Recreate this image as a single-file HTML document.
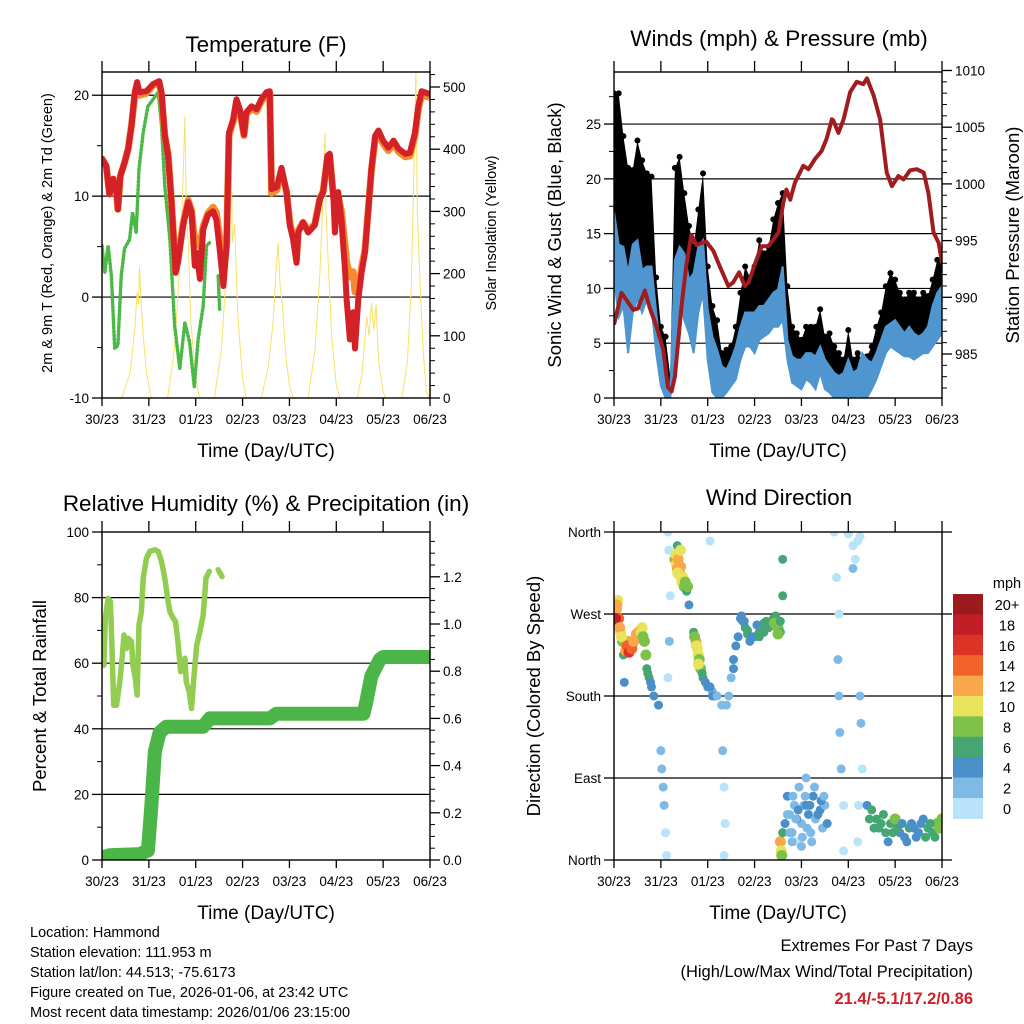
<!DOCTYPE html>
<html><head><meta charset="utf-8"><style>
html,body{margin:0;padding:0;background:#fff;}
svg{display:block;font-family:"Liberation Sans",sans-serif;}
</style></head><body>
<svg id="c" width="1024" height="1024" viewBox="0 0 1024 1024" xmlns="http://www.w3.org/2000/svg">
<rect width="1024" height="1024" fill="#fff"/>
</svg>
<script>
// ---------- DATA ----------
const dayLabels = ["30/23","31/23","01/23","02/23","03/23","04/23","05/23","06/23"];
// Temperature (F)
const tempRedT = [0,.09,.16,.24,.31,.34,.39,.48,.56,.63,.70,.75,.80,.95,1.09,1.22,1.27,1.34,1.41,1.48,1.57,1.62,1.73,1.84,1.91,1.98,2.02,2.09,2.16,2.26,2.37,2.44,2.51,2.59,2.66,2.71,2.80,2.87,2.94,3.03,3.08,3.19,3.30,3.40,3.51,3.58,3.62,3.73,3.83,3.94,4.01,4.08,4.15,4.19,4.29,4.40,4.54,4.65,4.72,4.81,4.86,4.94,4.97,5.04,5.11,5.19,5.22,5.29,5.36,5.40,5.47,5.54,5.61,5.68,5.75,5.83,5.90,6.00,6.11,6.22,6.33,6.47,6.57,6.68,6.75,6.82,7.0];
const tempRedV = [13.7,13.0,10.2,11.7,10.4,8.7,12.0,13.3,14.7,17.0,20.3,21.3,20.3,20.4,21.1,21.4,20.3,16.0,14.0,9.7,2.4,3.4,7.1,9.4,8.4,3.1,4.4,1.8,6.7,8.1,8.5,7.7,4.8,1.1,5.1,16.3,17.6,19.6,18.6,16.1,18.3,18.9,18.6,19.6,20.3,20.4,10.7,10.9,12.8,10.4,7.1,5.7,3.4,6.4,7.4,6.4,7.1,9.7,10.4,14.0,14.2,9.7,6.4,10.4,7.7,2.4,-0.2,-4.2,-1.5,-5.1,-0.2,2.4,4.4,8.4,12.7,16.0,16.5,15.5,14.8,15.5,14.7,14.2,14.3,16.3,18.9,20.4,20.1];
const tempOrgV = [13.7,13.0,10.2,11.7,10.4,8.7,12.0,13.3,14.7,17.0,20.0,21.0,20.0,20.2,21.0,21.2,20.0,16.0,14.2,9.8,2.6,3.6,7.3,9.6,8.6,5.5,5.8,5.0,7.0,8.3,8.9,8.4,6.0,2.0,5.3,16.0,17.4,19.4,18.4,16.0,18.1,18.7,18.4,19.4,20.0,20.2,10.3,10.6,12.5,10.4,7.3,5.9,3.7,6.6,7.4,6.6,7.2,9.8,10.5,13.8,14.0,10.0,9.0,10.0,8.5,5.0,3.5,2.0,2.5,0.5,0.5,3.0,4.6,8.5,12.5,15.7,16.2,15.2,14.5,15.2,14.4,13.9,14.0,16.0,18.6,20.0,19.8];
const dewT = [0,.06,.13,.20,.27,.34,.41,.48,.59,.65,.73,.79,.88,.98,1.09,1.20,1.27,1.34,1.45,1.55,1.66,1.77,1.87,1.97,2.05,2.16,2.23,2.30];
const dewV = [5.1,2.4,5.1,2.1,-5.1,-4.8,2.1,4.8,5.7,8.4,6.4,12.7,16.3,18.9,19.6,20.3,17.0,11.0,5.7,-2.8,-7.1,-2.5,-4.5,-8.9,-4.2,-0.9,5.1,5.4];
const dew2T = [2.48,2.51];
const dew2V = [2.1,-1.2];
const solarT = [.42,.60,.70,.75,.78,.80,.83,.88,.95,1.05, 1.40,1.55,1.65,1.72,1.77,1.80,1.84,1.90,2.0,2.08, 2.40,2.55,2.65,2.72,2.76,2.78,2.83,2.90,3.0,3.08, 3.40,3.55,3.65,3.72,3.76,3.80,3.85,3.92,4.0,4.08, 4.40,4.55,4.65,4.72,4.76,4.78,4.82,4.9,5.0,5.08, 5.45,5.55,5.65,5.70,5.75,5.80,5.85,5.9,6.0,6.05, 6.40,6.52,6.60,6.66,6.70,6.73,6.78,6.85,6.92,7.0];
const solarV = [0,40,110,170,150,211,160,100,40,0, 0,80,200,330,452,300,250,120,30,0, 0,80,200,330,383,250,280,130,30,0, 0,50,120,210,249,180,150,70,20,0, 0,80,200,330,426,300,230,100,20,0, 0,40,130,100,153,110,150,60,10,0, 0,60,180,380,524,300,200,80,10,0];
// Winds (mph) & pressure (mb)
const windT = [0,.1,.2,.3,.4,.5,.6,.7,.8,.9,1.0,1.1,1.2,1.3,1.4,1.5,1.6,1.7,1.8,1.9,2.0,2.1,2.2,2.3,2.4,2.5,2.6,2.7,2.8,2.9,3.0,3.1,3.2,3.3,3.4,3.5,3.6,3.7,3.8,3.9,4.0,4.1,4.2,4.3,4.4,4.5,4.6,4.7,4.8,4.9,5.0,5.1,5.2,5.3,5.4,5.5,5.6,5.7,5.8,5.9,6.0,6.1,6.2,6.3,6.4,6.5,6.6,6.7,6.8,6.9,7.0];
const gustHigh = [27.8,27.8,23.9,21,20.8,23.5,21.7,20.5,20.2,11,6.5,5.6,2,21,22,18.7,15.7,13.8,17.2,20.5,12,8.4,7.1,4.1,4.4,4.7,6.5,9.6,12,11,12,14.4,13.2,13.8,16.3,17.8,18.7,10.2,6.5,5.9,5.3,6.5,6.5,6.5,8.1,5.6,5.9,4.7,4.1,3.5,6.2,3.5,4.1,3.5,3.8,4.7,6.5,7.8,10.2,11.4,10.8,9.6,9,9.6,9.6,9,9.6,9.3,10.8,12.6,13.2];
const windHigh = [17,14,13.8,11.4,14,14.4,11.7,12,12,7.8,4.1,2,0.5,12.6,13.8,13.2,10.8,11.4,13.8,14.4,8.1,5.6,4.4,2.9,2.6,3.5,4.7,6.5,7.8,7.8,7.8,8.4,8.4,9,9.6,9.9,12,5.3,3.8,3.5,3.5,4.1,4.1,3.8,4.7,3.5,2.9,2.3,2,2.3,3.5,2.3,2.6,4.1,3.5,3.2,4.1,5.3,6.5,6.8,7.1,6.5,5.9,6.5,5.9,5.6,5.9,6.5,8.4,9.6,10.2];
const windLow = [11,7.4,8.4,4.1,7.8,9,7.8,9,8.4,4.1,1.1,0,0,3.5,9.6,7.1,5.9,4.1,7.8,9.6,3.5,0.5,0,0,0.5,1.1,1.7,3.5,4.7,4.7,4.1,5.3,5.6,5.9,6.5,6.5,7.1,3.5,1.4,1.1,0.8,1.7,1.4,0.8,2.3,0.8,0.5,0,0,0,0.2,0,0.2,0,0,0.8,1.7,2.9,4.1,4.7,4.4,4.1,3.8,3.8,3.5,3.8,4.1,4.1,4.7,5.3,5.9];
const presT = [0,.16,.26,.41,.51,.66,.76,.91,1.05,1.15,1.23,1.30,1.44,1.55,1.65,1.76,1.87,1.97,2.12,2.26,2.44,2.54,2.67,2.79,2.87,3.04,3.15,3.29,3.51,3.61,3.68,3.76,3.86,4.04,4.15,4.29,4.43,4.54,4.65,4.68,4.79,4.90,5.04,5.18,5.32,5.40,5.54,5.68,5.82,5.93,6.07,6.18,6.32,6.46,6.61,6.71,6.82,6.93,7.0];
const presV = [987.6,990.4,989.8,988.9,989.0,990.6,989.1,987.4,985.4,982.1,981.7,983.0,989.2,993.0,995.5,994.6,994.8,994.9,994.1,992.7,991.0,991.3,992.2,991.0,991.3,993.3,994.5,994.5,995.7,998.3,999.5,998.6,1000.1,1001.6,1001.3,1002.2,1002.9,1004.0,1005.7,1005.6,1004.5,1005.7,1008.1,1009.0,1008.8,1009.3,1007.8,1005.7,1001.0,999.8,1000.7,1000.4,1001.2,1001.3,1001.0,999.2,995.7,994.8,993.0];
// RH & precipitation
const rhT = [0,.04,.07,.13,.18,.21,.25,.31,.38,.43,.47,.52,.56,.63,.66,.71,.75,.79,.84,.88,.95,1.02,1.13,1.20,1.27,1.34,1.41,1.45,1.52,1.57,1.62,1.68,1.77,1.80,1.86,1.91,1.96,2.02,2.09,2.16,2.22,2.29];
const rhV = [68.6,59.4,73.7,79.8,78.8,66.6,47.2,47.2,54.3,61.5,68.6,64.5,67.6,66.6,59.4,55.4,50.3,71.7,75.7,85.9,92,94.1,94.6,94.1,91,85.9,78.8,75.7,73.7,72.7,66.6,57.4,61.5,54.3,51.3,46.2,55.4,65.5,69.6,74.7,85.9,88];
const rh2T = [2.48,2.56];
const rh2V = [88.5,86.4];
const precipT = [0,.16,.80,.98,1.05,1.13,1.23,1.37,2.16,2.30,3.58,3.72,5.58,5.64,5.75,5.93,6.0,7.0];
const precipV = [0.01,0.02,0.025,0.04,0.22,0.46,0.54,0.565,0.565,0.60,0.60,0.62,0.62,0.67,0.78,0.85,0.86,0.86];
// Wind direction (deg), colored by speed (mph)
const dirT = [0,.02,.05,.08,.1,.14,.18,.2,.22,.3,.35,.4,.45,.5,.55,.6,.65,.7,.75,.8,.85,.95,1.0,1.02,1.05,1.07,1.1,1.12,1.15,1.18,1.2,1.17,1.15,1.3,1.33,1.35,1.38,1.4,1.43,1.45,1.5,1.55,1.6,1.35,1.7,1.75,1.78,1.8,1.85,1.9,2.0,2.1,2.15,2.05,2.3,2.32,2.35,2.37,2.35,2.45,2.5,2.55,2.6,2.7,2.8,2.9,3.0,3.1,3.2,3.3,3.4,3.5,3.55,3.6,3.6,3.55,3.57,3.6,3.58,3.7,3.75,3.8,3.85,3.9,3.95,4.0,4.05,4.1,4.15,4.2,4.25,4.3,4.4,4.45,4.5,4.55,4.7,4.75,4.8,4.78,4.8,4.82,4.85,4.9,4.9,5.0,5.1,5.15,5.2,5.25,5.1,5.25,5.27,5.3,5.22,5.2,5.4,5.5,5.6,5.7,5.8,5.9,6.0,6.1,6.2,6.3,6.4,6.5,6.6,6.7,6.8,6.9,7.0,3.8,3.9,4.0,4.1,2.75,2.85,3.05,3.15,3.25,3.45];
const dirV = [260,270,275,285,265,250,240,225,195,240,235,238,242,245,250,255,240,210,200,190,180,170,120,100,80,60,30,5,200,240,290,340,360,330,325,320,318,315,310,305,300,295,280,345,250,240,232,225,210,200,190,185,180,350,170,120,80,40,5,180,200,220,235,265,255,240,245,250,260,255,265,255,250,330,290,20,10,30,5,70,50,30,60,20,80,40,60,90,50,30,70,45,55,35,60,40,360,310,270,220,180,140,100,60,10,358,345,330,350,355,320,180,150,100,60,20,60,55,45,40,30,40,45,30,25,35,35,30,45,35,30,40,45,20,45,15,60,262,248,258,252,262,268];
const dirS = [16,14,12,10,14,10,8,6,4,12,16,13,12,12,12,11,8,7,6,5,4,4,3,2,3,2,1,0,1,2,1,0,0,9,11,12,13,12,11,11,8,6,4,6,6,12,11,10,8,6,4,3,4,1,2,2,1,1,0,2,3,4,4,5,6,4,5,6,7,6,7,8,7,6,6,12,10,7,9,4,3,2,2,1,3,2,3,2,4,3,4,3,4,3,2,4,0,1,1,2,2,3,2,1,1,1,1,0,1,0,2,3,2,1,1,0,5,6,7,6,6,7,8,5,5,6,4,5,5,6,7,8,9,3,4,3,4,5,6,5,6,7,6];
const dir2T = [0.03,0.06,0.12,0.16,0.25,0.28,0.32,0.38,0.42,0.48,0.52,0.58,0.62,0.68,0.72,0.78,1.32,1.37,1.42,1.47,1.52,1.57,1.42,1.36,1.72,1.76,1.82,1.88,1.95,2.05,2.1,2.2,1.8,2.4,2.55,2.65,2.72,2.78,2.85,2.95,3.1,3.2,3.35,3.42,3.5,3.55,3.65,3.7,3.75,3.82,3.88,3.93,4.02,4.08,4.12,4.18,4.22,4.28,4.35,4.42,4.48,5.45,5.55,5.65,5.75,5.85,5.95,6.05,6.15,6.25,6.35,6.45,6.55,6.65,6.75,6.85,6.95];
const dir2V = [265,280,255,245,230,235,228,232,240,248,250,250,245,225,205,195,335,330,322,310,305,300,340,315,245,235,220,205,195,190,180,180,215,170,210,245,268,262,252,245,245,250,258,260,248,262,40,50,30,70,45,55,25,70,35,60,20,80,50,65,70,45,35,35,50,20,30,35,40,20,40,25,40,25,40,25,35];
const dir2S = [18,12,13,11,12,14,16,14,12,13,12,10,9,8,6,5,10,12,13,10,9,8,11,10,8,10,9,7,5,4,4,3,11,2,4,4,4,5,6,5,7,7,6,8,8,7,4,3,3,2,3,4,2,3,3,4,2,3,4,4,3,6,7,7,6,5,6,7,5,4,5,5,5,6,7,6,8];
const speedColors = ["#b8e3f8","#7fbae6","#4a8fc8","#45a673","#7dc14b","#e8e35a","#f8a84a","#f26329","#dd3327","#bf1e26","#9b1a1e"];
const speedLabels = ["0","2","4","6","8","10","12","14","16","18","20+"];

// ---------- DRAWING ----------
const NS="http://www.w3.org/2000/svg";
const svg=document.getElementById('c');
function el(tag,attrs,parent){const e=document.createElementNS(NS,tag);for(const k in attrs)e.setAttribute(k,attrs[k]);(parent||svg).appendChild(e);return e;}
function txt(s,x,y,size,anchor,parent,extra){const t=el('text',Object.assign({x:x,y:y,'font-size':size,'text-anchor':anchor||'middle',fill:'#000'},extra||{}),parent);t.textContent=s;return t;}
function mkAxis(x0,x1,y0,y1,vmin,vmax){return {x0,x1,y0,y1,sx:t=>x0+t/7*(x1-x0),sy:v=>y1-(v-vmin)/(vmax-vmin)*(y1-y0),vmin,vmax};}

function frame(P,name,clipId){
  const cp=el('clipPath',{id:clipId});
  el('rect',{x:P.x0,y:P.y0,width:P.x1-P.x0,height:P.y1-P.y0},cp);
}
function xAxis(P,name){
  const g=el('g',{});
  
  
  for(let i=0;i<8;i++){
    const x=P.sx(i);
    el('line',{x1:x,x2:x,y1:P.y1,y2:P.y1+8,stroke:'#000','stroke-width':1.3},g);
    el('line',{x1:x,x2:x,y1:P.y0,y2:P.y0-11,stroke:'#000','stroke-width':1.3},g);
    const l=txt(dayLabels[i],x,P.y1+26,13.5,'middle',g);
    
    
  }
  const tt=txt('Time (Day/UTC)',(P.x0+P.x1)/2,P.y1+59,19,'middle',g);
  
  
}
function yTicks(P,axisVals,minorVals,scale,side,labels,g){
  const xa = side==='left'?P.x0:P.x1, dir = side==='left'?-1:1;
  axisVals.forEach((v,i)=>{
    const y=scale(v);
    el('line',{x1:xa,x2:xa+dir*10,y1:y,y2:y,stroke:'#000','stroke-width':1.3},g);
    if(labels){const l=txt(labels[i],xa+dir*13,y+5,13.5,side==='left'?'end':'start',g);
      
      }
  });
  minorVals.forEach(v=>{const y=scale(v);el('line',{x1:xa,x2:xa+dir*5,y1:y,y2:y,stroke:'#000','stroke-width':1},g);});
}
function grid(P,vals,scale){vals.forEach(v=>{const y=scale(v);el('line',{x1:P.x0,x2:P.x1,y1:y,y2:y,stroke:'#000','stroke-width':1.2});});}
function border(P){el('rect',{x:P.x0,y:P.y0,width:P.x1-P.x0,height:P.y1-P.y0,fill:'none',stroke:'#000','stroke-width':1.4});}
function pts(P,T,V,scale){return T.map((t,i)=>P.sx(t).toFixed(1)+','+scale(V[i]).toFixed(1)).join(' ');}
function rotTitle(s,x,y,size,name){const t=txt(s,x,y,size,'middle',svg,{transform:`rotate(-90 ${x} ${y})`});}
function title(s,x,y,name){const t=txt(s,x,y,22.5,'middle');}

// ===== Panel 1: Temperature =====
const P1=mkAxis(102,430,72,398,-10,22.3);
const sy1R=v=>398-v*0.622;
frame(P1,'temperature','clip1');
grid(P1,[0,10,20],P1.sy);
{
 const g=el('g',{'clip-path':'url(#clip1)'});
 
 
 const so=el('polyline',{points:pts(P1,solarT,solarV,sy1R),fill:'none',stroke:'#f9e067','stroke-width':1},g);
 
 
 const dw=el('polyline',{points:pts(P1,dewT,dewV,P1.sy),fill:'none',stroke:'#4cb848','stroke-width':3.5,'stroke-dasharray':'1.5 2.5','stroke-linecap':'round'},g);
 
 
 const dw2=el('polyline',{points:pts(P1,dew2T,dew2V,P1.sy),fill:'none',stroke:'#4cb848','stroke-width':3.5,'stroke-dasharray':'1.5 2.5','stroke-linecap':'round'},g);
 
 
 const or=el('polyline',{points:pts(P1,tempRedT,tempOrgV,P1.sy),fill:'none',stroke:'#f58a30','stroke-width':7,'stroke-linejoin':'round','stroke-linecap':'round'},g);
 
 
 const rd=el('polyline',{points:pts(P1,tempRedT,tempRedV,P1.sy),fill:'none',stroke:'#d42027','stroke-width':6,'stroke-linejoin':'round','stroke-linecap':'round'},g);
 
 
}
border(P1);
{const g=el('g',{});
 yTicks(P1,[-10,0,10,20],[-5,5,15],P1.sy,'left',['-10','0','10','20'],g);
 yTicks(P1,[0,100,200,300,400,500],[20,40,60,80,120,140,160,180,220,240,260,280,320,340,360,380,420,440,460,480,520],sy1R,'right',['0','100','200','300','400','500'],g);}
xAxis(P1,'temperature');
title('Temperature (F)',266,52,'temperature-title');
rotTitle('2m & 9m T (Red, Orange) & 2m Td (Green)',52,233,14.5,'temperature-y-title');
rotTitle('Solar Insolation (Yellow)',496,233,14.5,'solar-y-title');

// ===== Panel 2: Winds & Pressure =====
const P2=mkAxis(614,942,72,398,0,29.75);
const sy2R=v=>354-(v-985)*11.34;
frame(P2,'winds','clip2');
grid(P2,[5,10,15,20,25],P2.sy);
{
 const g=el('g',{'clip-path':'url(#clip2)'});
 
 
 const up=windT.map((t,i)=>P2.sx(t).toFixed(1)+','+P2.sy(gustHigh[i]).toFixed(1));
 const dn=windT.map((t,i)=>P2.sx(t).toFixed(1)+','+P2.sy(windLow[i]).toFixed(1)).reverse();
 const gb=el('polygon',{points:up.concat(dn).join(' '),fill:'#000'},g);
 
 
 windT.forEach((t,i)=>{
   const c=el('circle',{cx:P2.sx(t),cy:P2.sy(gustHigh[i]),r:3,fill:'#000'},g);
   
   
 });
 const wu=windT.map((t,i)=>P2.sx(t).toFixed(1)+','+P2.sy(windHigh[i]).toFixed(1));
 const wb=el('polygon',{points:wu.concat(dn).join(' '),fill:'#4f96d0',stroke:'#4f96d0','stroke-width':2},g);
 
 
 const pl=el('polyline',{points:pts(P2,presT,presV,sy2R),fill:'none',stroke:'#a01c20','stroke-width':4,'stroke-linejoin':'round'},g);
 
 
}
border(P2);
{const g=el('g',{});
 yTicks(P2,[0,5,10,15,20,25],[2.5,7.5,12.5,17.5,22.5,27.5],P2.sy,'left',['0','5','10','15','20','25'],g);
 yTicks(P2,[985,990,995,1000,1005,1010],[982,983,984,986,987,988,989,991,992,993,994,996,997,998,999,1001,1002,1003,1004,1006,1007,1008,1009],sy2R,'right',['985','990','995','1000','1005','1010'],g);}
xAxis(P2,'winds');
title('Winds (mph) & Pressure (mb)',779,46,'winds-title');
rotTitle('Sonic Wind & Gust (Blue, Black)',561,235,18.5,'winds-y-title');
rotTitle('Station Pressure (Maroon)',1019,235,18.5,'pressure-y-title');

// ===== Panel 3: RH & Precip =====
const P3=mkAxis(102,430,532,860,0,100);
const sy3R=v=>860-v*236;
frame(P3,'humidity','clip3');
grid(P3,[20,40,60,80],P3.sy);
{
 const g=el('g',{'clip-path':'url(#clip3)'});
 
 
 const rh=el('polyline',{points:pts(P3,rhT,rhV,P3.sy),fill:'none',stroke:'#92cc50','stroke-width':5.5,'stroke-linejoin':'round','stroke-linecap':'round'},g);
 
 
 const rh2=el('polyline',{points:pts(P3,rh2T,rh2V,P3.sy),fill:'none',stroke:'#92cc50','stroke-width':5.5,'stroke-linecap':'round'},g);
 
 
 const pr=el('polyline',{points:pts(P3,precipT,precipV,sy3R),fill:'none',stroke:'#4cb548','stroke-width':14,'stroke-linejoin':'round','stroke-linecap':'round'},g);
 
 
}
border(P3);
{const g=el('g',{});
 yTicks(P3,[0,20,40,60,80,100],[10,30,50,70,90],P3.sy,'left',['0','20','40','60','80','100'],g);
 yTicks(P3,[0,0.2,0.4,0.6,0.8,1.0,1.2],[0.05,0.1,0.15,0.25,0.3,0.35,0.45,0.5,0.55,0.65,0.7,0.75,0.85,0.9,0.95,1.05,1.1,1.15,1.25,1.3,1.35],sy3R,'right',['0.0','0.2','0.4','0.6','0.8','1.0','1.2'],g);}
xAxis(P3,'humidity');
title('Relative Humidity (%) & Precipitation (in)',266,511,'humidity-title');
rotTitle('Percent & Total Rainfall',46,696,18.5,'humidity-y-title');

// ===== Panel 4: Wind Direction =====
const P4=mkAxis(614,942,532,860,0,360);
frame(P4,'direction','clip4');
grid(P4,[90,180,270],P4.sy);
{
 const g=el('g',{'clip-path':'url(#clip4)'});
 
 
 const allT=dirT.concat(dir2T), allV=dirV.concat(dir2V), allS=dirS.concat(dir2S);
 allT.forEach((t,i)=>{
   const s=allS[i];const ci=Math.min(10,Math.floor(s/2));
   const c=el('circle',{cx:P4.sx(t),cy:P4.sy(allV[i]),r:s>=8?5.5:4.5,fill:speedColors[ci]},g);
   
   
 });
}
border(P4);
{const g=el('g',{});
 yTicks(P4,[0,90,180,270,360],[],P4.sy,'left',['North','East','South','West','North'],g);
 [0,90,180,270,360].forEach(v=>{const y=P4.sy(v);el('line',{x1:P4.x1,x2:P4.x1+10,y1:y,y2:y,stroke:'#000','stroke-width':1.3},g);});}
xAxis(P4,'direction');
title('Wind Direction',779,505,'direction-title');
rotTitle('Direction (Colored By Speed)',540,696,18.5,'direction-y-title');

// Colorbar legend
{
 const g=el('g',{});
 
 
 const bx=953,by=594,bh=20.4;
 txt('mph',1007,588,14.5,'middle',g);
 for(let i=0;i<11;i++){
   const ci=10-i;
   const r=el('rect',{x:bx,y:by+i*bh,width:30,height:bh+0.5,fill:speedColors[ci]},g);
   
   
   txt(speedLabels[ci],1007,by+i*bh+16,14.5,'middle',g);
 }
}

// Footer text
{
 const g=el('g',{});
 
 
 ["Location: Hammond","Station elevation: 111.953 m","Station lat/lon: 44.513; -75.6173","Figure created on Tue, 2026-01-06, at 23:42 UTC","Most recent data timestamp: 2026/01/06 23:15:00"].forEach((s,i)=>txt(s,30,937+i*20,14.5,'start',g));
 const g2=el('g',{});
 
 
 txt('Extremes For Past 7 Days',973,951,16.5,'end',g2);
 txt('(High/Low/Max Wind/Total Precipitation)',973,977,16.5,'end',g2);
 txt('21.4/-5.1/17.2/0.86',973,1004,16.5,'end',g2,{fill:'#d02028','font-weight':'bold'});
}
</script>
</body></html>
